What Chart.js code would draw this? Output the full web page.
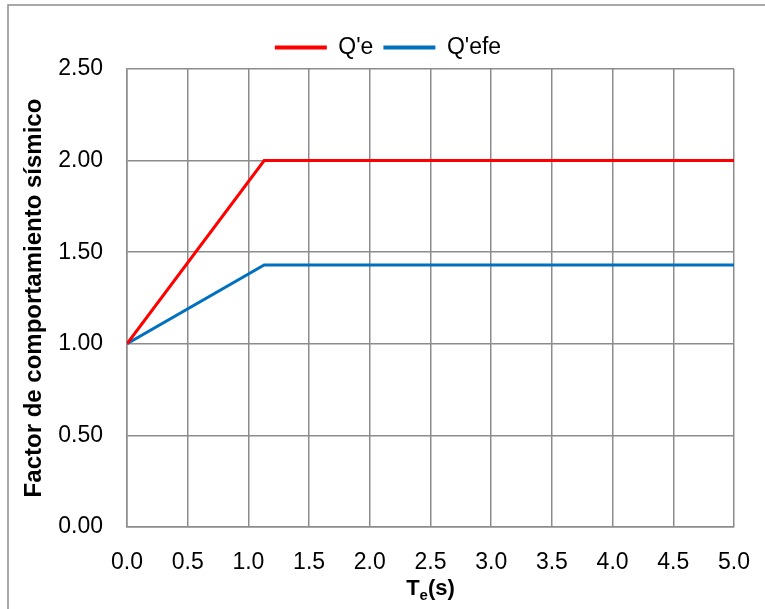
<!DOCTYPE html>
<html>
<head>
<meta charset="utf-8">
<script src="https://cdn.jsdelivr.net/npm/chart.js@4.4.0/dist/chart.umd.min.js"></script>
<style>
    body { margin: 0; background: #fff; }
    #wrap { width: 765px; height: 609px; position: relative; }
</style>
</head>
<body>
<div id="wrap"><canvas id="graph" width="765" height="609"></canvas></div>
<script>
const periods = [0, 1.13, 5]
const qeValues = [1, 2, 2]
const qefeValues = [1, 1.43, 1.43]
const seriesNames = ["Q'e", "Q'efe"]
const yTitle = "Factor de comportamiento sísmico"

const fontFamily = "'Liberation Sans', Arial, sans-serif"
const gridColor = "#8c8c8c"

function toPoints(values) {
    return periods.map((p, i) => ({ x: p, y: values[i] }))
}

// outer frame, legend nudge and x title with subscript
const decorations = {
    id: "decorations",
    afterLayout(chart) {
        chart.legend.left += 21
        chart.legend.right += 21
    },
    beforeDraw(chart) {
        const ctx = chart.ctx
        ctx.save()
        ctx.fillStyle = "#fff"
        ctx.fillRect(0, 0, chart.width, chart.height)
        ctx.strokeStyle = "#8c8c8c"
        ctx.lineWidth = 1.5
        ctx.strokeRect(8, 5, 800, 700)
        ctx.restore()
    },
    afterDraw(chart) {
        const ctx = chart.ctx
        const area = chart.chartArea
        const cx = (area.left + area.right) / 2
        ctx.save()
        ctx.fillStyle = "#000"
        ctx.textBaseline = "alphabetic"
        const big = "bold 22px " + fontFamily
        const small = "bold 15px " + fontFamily
        ctx.font = big
        const wT = ctx.measureText("T").width
        const wS = ctx.measureText("(s)").width
        ctx.font = small
        const wE = ctx.measureText("e").width
        let x = cx - (wT + wE + wS) / 2
        const y = 595
        ctx.font = big
        ctx.fillText("T", x, y)
        x += wT
        ctx.font = small
        ctx.fillText("e", x, y + 5)
        x += wE
        ctx.font = big
        ctx.fillText("(s)", x, y)
        ctx.restore()
    },
}

const chartID = document.getElementById("graph").getContext("2d")
const graphic = new Chart(chartID, {
    type: "line",
    data: {
        datasets: [
            {
                label: seriesNames[0],
                data: toPoints(qeValues),
                borderColor: "rgb(255,0,0)",
                backgroundColor: "rgb(255,0,0)",
                borderWidth: 3,
                pointRadius: 0,
                tension: 0,
            },
            {
                label: seriesNames[1],
                data: toPoints(qefeValues),
                borderColor: "rgb(0,112,192)",
                backgroundColor: "rgb(0,112,192)",
                borderWidth: 3,
                pointRadius: 0,
                tension: 0,
            },
        ],
    },
    options: {
        responsive: false,
        animation: false,
        layout: { padding: { left: 0, right: 31, top: 26, bottom: 0 } },
        plugins: {
            legend: {
                position: "top",
                labels: {
                    boxWidth: 52,
                    boxHeight: 4,
                    padding: 10,
                    color: "#000",
                    font: { family: fontFamily, size: 23 },
                    generateLabels(chart) {
                        return chart.data.datasets.map((ds, i) => ({
                            text: ds.label,
                            fillStyle: ds.borderColor,
                            strokeStyle: ds.borderColor,
                            lineWidth: 0,
                            datasetIndex: i,
                        }))
                    },
                },
            },
            tooltip: { enabled: false },
        },
        scales: {
            x: {
                type: "linear",
                min: 0,
                max: 5,
                ticks: {
                    stepSize: 0.5,
                    color: "#000",
                    padding: 22,
                    maxRotation: 0,
                    font: { family: fontFamily, size: 23 },
                    callback: (v) => v.toFixed(1),
                },
                grid: { color: gridColor, lineWidth: 1.5, drawTicks: false },
                border: { color: gridColor, width: 1.5 },
                afterFit(scale) {
                    scale.height = 82
                    scale.paddingRight = 0
                    scale.paddingLeft = 0
                },
            },
            y: {
                min: 0,
                max: 2.5,
                ticks: {
                    stepSize: 0.5,
                    color: "#000",
                    padding: 24,
                    font: { family: fontFamily, size: 23 },
                    callback: (v) => v.toFixed(2),
                },
                grid: { color: gridColor, lineWidth: 1.5, drawTicks: false },
                border: { color: gridColor, width: 1.5 },
                title: {
                    display: true,
                    text: yTitle,
                    color: "#000",
                    font: { family: fontFamily, size: 24, weight: "bold" },
                    padding: { top: 20, bottom: 0 },
                },
                afterFit(scale) {
                    scale.width = 127
                },
            },
        },
    },
    plugins: [decorations],
})
</script>
</body>
</html>
